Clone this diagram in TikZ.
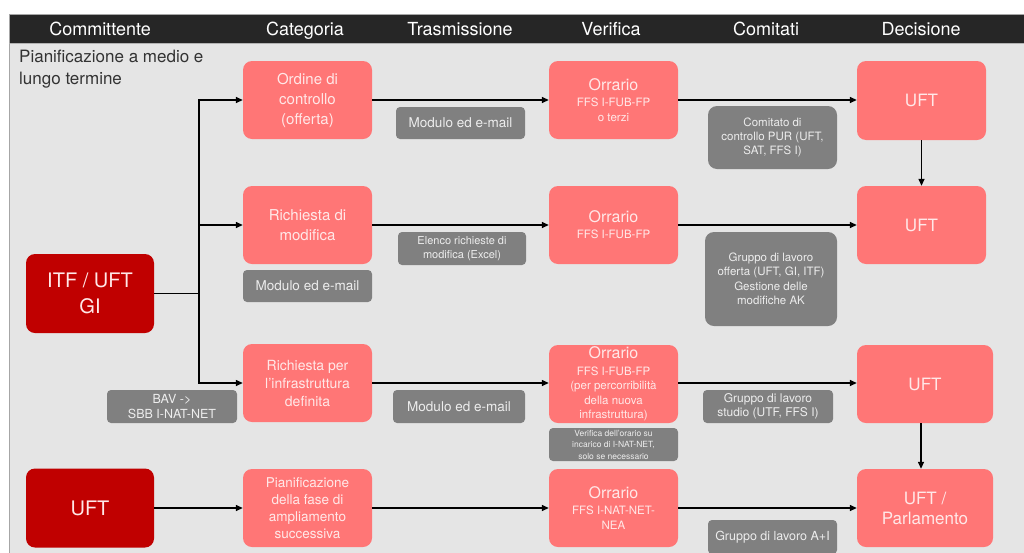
\documentclass[tikz,border=0pt]{standalone}
\usepackage{fontspec}
\setmainfont{TeX Gyre Heros}
\usetikzlibrary{arrows.meta}
\definecolor{salmon}{HTML}{FF7676}
\definecolor{darkred}{HTML}{C00000}
\definecolor{boxgray}{HTML}{808080}
\definecolor{bgc}{HTML}{E5E5E5}
\definecolor{headc}{HTML}{262626}
\definecolor{pinktxt}{HTML}{FFE8E8}
\definecolor{graytxt}{HTML}{EDEDED}
\newcommand{\fs}[2]{\fontsize{#1}{#2}\selectfont}
\begin{document}
\begin{tikzpicture}[x=1pt,y=-1pt,
  salbox/.style={rounded corners=9pt, minimum width=129pt, minimum height=78pt, inner sep=0pt, align=center, fill=salmon, text=pinktxt},
  redbox/.style={salbox, fill=darkred, minimum width=128pt, minimum height=79pt},
  graybox/.style={rounded corners=4pt, minimum width=129pt, minimum height=32pt, inner sep=0pt, align=center, fill=boxgray, text=graytxt},
  bigray/.style={graybox, rounded corners=9pt},
  headtxt/.style={text=white, font=\fs{18}{20}, inner sep=0pt, anchor=base},
  arr/.style={line width=1.4pt, -{Triangle[length=7pt,width=6pt]}},
  ln/.style={line width=1.4pt}]
\useasboundingbox (0,0) rectangle (1024,552);
\fill[white] (0,0) rectangle (1024,552);
\fill[bgc] (9,43) rectangle (1030,560);
\fill[headc] (9,14) rectangle (1030,43);
\draw[gray!70, line width=0.8pt] (9,560) -- (9,14) -- (1030,14);
\draw[gray!60, line width=0.6pt] (9,43) -- (1030,43);

% header
\node[headtxt] (h1) at (100,35.5) {Committente};
\node[headtxt] (h2) at (305,35.5) {Categoria};
\node[headtxt] (h3) at (460,35.5) {Trasmissione};
\node[headtxt] (h4) at (611,35.5) {Verifica};
\node[headtxt] (h5) at (766,35.5) {Comitati};
\node[headtxt] (h6) at (921,35.5) {Decisione};

\node[anchor=north west, align=left, inner sep=0pt, text=black!80, font=\fs{17}{22}] (lbl) at (19,50) {Pianificazione a medio e\\lungo termine};

% row 1
\node[salbox, font=\fs{15}{20}] (ord) at (307.5,100) {Ordine di\\controllo\\(offerta)};
\node[graybox, font=\fs{13.5}{16}] (modA) at (460.5,123) {Modulo ed e-mail};
\node[salbox, font=\fs{11.5}{15}] (orrA) at (613.5,100) {{\fs{16}{16}Orrario}\\[1pt]FFS I-FUB-FP\\o terzi};
\node[bigray, minimum height=63pt, font=\fs{11.5}{14}] (comA) at (772.5,137.5) {Comitato di\\controllo PUR (UFT,\\SAT, FFS I)};
\node[salbox, minimum height=79pt, font=\fs{17}{20}] (uftA) at (921.5,100.5) {UFT};

% row 2
\node[salbox, font=\fs{15}{20}] (ric) at (307.5,225) {Richiesta di\\modifica};
\node[graybox, font=\fs{13.5}{16}] (modB) at (307.5,286) {Modulo ed e-mail};
\node[graybox, minimum width=128pt, minimum height=33pt, font=\fs{11}{14}] (elen) at (462,248.5) {Elenco richieste di\\modifica (Excel)};
\node[salbox, font=\fs{11.5}{15}] (orrB) at (613.5,225) {{\fs{16}{16}Orrario}\\[1pt]FFS I-FUB-FP};
\node[bigray, minimum width=132pt, minimum height=94pt, font=\fs{11.5}{14.5}] (grpB) at (771,279) {Gruppo di lavoro\\offerta (UFT, GI, ITF)\\Gestione delle\\modifiche AK};
\node[salbox, font=\fs{17}{20}] (uftB) at (921.5,225) {UFT};

\node[redbox, font=\fs{20}{26}] (itf) at (90,293.5) {ITF / UFT\\GI};

% row 3
\node[salbox, font=\fs{14}{18}] (rich3) at (307.5,383) {Richiesta per\\l'infrastruttura\\definita};
\node[graybox, minimum width=130pt, minimum height=33pt, font=\fs{12.5}{15}] (bav) at (172,406.5) {BAV ->\\SBB I-NAT-NET};
\node[graybox, minimum width=132pt, minimum height=33pt, font=\fs{13.5}{16}] (modC) at (459,406.5) {Modulo ed e-mail};
\node[salbox, font=\fs{11.5}{14.5}] (orrC) at (613.5,384) {{\fs{16}{16}Orrario}\\[2pt]FFS I-FUB-FP\\(per percorribilità\\della nuova\\infrastruttura)};
\node[graybox, minimum height=33pt, font=\fs{8.5}{11.5}] (ver) at (613.5,444.5) {Verifica dell'orario su\\incarico di I-NAT-NET,\\solo se necessario};
\node[graybox, minimum width=130pt, minimum height=33pt, font=\fs{12}{14}] (grpC) at (768,406.5) {Gruppo di lavoro\\studio (UTF, FFS I)};
\node[salbox, minimum width=136pt, font=\fs{17}{20}] (uftC) at (925,384) {UFT};

% row 4
\node[redbox, font=\fs{20}{26}] (uftD) at (90,508) {UFT};
\node[salbox, font=\fs{13.5}{17}] (pian) at (307.5,508) {Pianificazione\\della fase di\\ampliamento\\successiva};
\node[salbox, font=\fs{11.5}{14.5}] (orrD) at (613.5,508) {{\fs{16}{16}Orrario}\\[2pt]FFS I-NAT-NET-\\NEA};
\node[graybox, minimum height=34pt, font=\fs{12.5}{15}] (grpD) at (772.5,537) {Gruppo di lavoro A+I};
\node[salbox, minimum width=136pt, font=\fs{17}{20}] (uftE) at (925,508) {UFT /\\Parlamento};

% connectors
\coordinate (j) at (199,293.5);
\draw[ln] (itf.east) -- (j);
\draw[arr] (j) |- (ord.west);
\draw[arr] (j) |- (ric.west);
\draw[arr] (j) |- (rich3.west);

\draw[arr] (ord.east) -- (orrA.west);
\draw[arr] (orrA.east) -- (orrA.east -| uftA.west);
\draw[arr] (uftA.south) -- (uftB.north);

\draw[arr] (ric.east) -- (orrB.west);
\draw[arr] (orrB.east) -- (uftB.west);

\draw[arr] (rich3.east) -- (rich3.east -| orrC.west);
\draw[arr] (rich3.east -| orrC.east) -- (rich3.east -| uftC.west);
\draw[arr] ([xshift=-4pt]uftC.south) -- ([xshift=-4pt]uftE.north);

\draw[arr] (uftD.east) -- (pian.west);
\draw[arr] (pian.east) -- (orrD.west);
\draw[arr] (orrD.east) -- (uftE.west);
\end{tikzpicture}
\end{document}
